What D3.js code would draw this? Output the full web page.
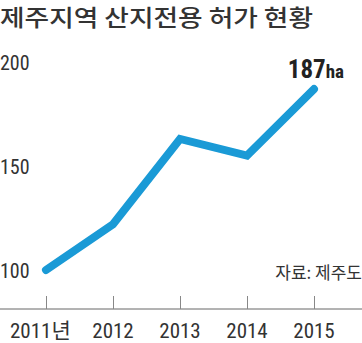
<!DOCTYPE html>
<html>
<head>
<meta charset="utf-8">
<script src="https://cdn.jsdelivr.net/npm/d3@7"></script>
<style>
  html, body { margin: 0; padding: 0; background: #fff; }
  svg { display: block; }
  .narrow { font-family: "Liberation Sans Narrow", "Roboto Condensed", "Noto Sans CJK KR", sans-serif; }
</style>
</head>
<body>
<svg id="chart" width="362" height="343"></svg>
<script>
// 제주지역 산지전용 허가 면적 (ha)
const years = [2011, 2012, 2013, 2014, 2015];
const yearLabels = ["2011년", "2012", "2013", "2014", "2015"];
const areas = [100, 122, 163, 155, 187];
const yTicks = [100, 150, 200];
const title = "제주지역 산지전용 허가 현황";
const source = "자료: 제주도";
const lastLabel = "187";
const unit = "ha";

const svg = d3.select("#chart");
const ink = "#333";

const x = d3.scalePoint().domain(years).range([46, 314]);
const y = d3.scaleLinear().domain([100, 200]).range([270, 62]);

// title
svg.append("text")
  .attr("x", 0).attr("y", 26)
  .attr("font-family", "'Noto Sans CJK KR', sans-serif")
  .attr("font-size", 23).attr("font-weight", 500)
  .attr("fill", ink)
  .attr("textLength", 313).attr("lengthAdjust", "spacingAndGlyphs")
  .text(title);

// y tick labels
svg.append("g").selectAll("text").data(yTicks).join("text")
  .attr("class", "narrow")
  .attr("x", 0).attr("y", d => y(d) + 8)
  .attr("font-size", 20).attr("fill", ink)
  .text(d => d);

// x axis
const xAxis = d3.axisTop(x).tickSize(13).tickFormat("").tickSizeOuter(0);
const gx = svg.append("g").attr("transform", "translate(0,309)").call(xAxis);
gx.select(".domain").attr("d", "M0,0H362").attr("stroke", "#666");
gx.selectAll(".tick line").attr("stroke", "#888");

svg.append("g").selectAll("text").data(years).join("text")
  .attr("class", "narrow")
  .attr("x", d => x(d)).attr("y", 338)
  .attr("text-anchor", (d, i) => i === 0 ? "start" : "middle")
  .attr("dx", (d, i) => i === 0 ? -36 : 0)
  .attr("font-size", 21).attr("fill", ink)
  .text((d, i) => yearLabels[i]);

// line
const line = d3.line().x((d, i) => x(years[i])).y(d => y(d));
svg.append("path")
  .datum(areas)
  .attr("d", line)
  .attr("fill", "none")
  .attr("stroke", "#1a9ad6")
  .attr("stroke-width", 8)
  .attr("stroke-linecap", "round")
  .attr("stroke-linejoin", "miter");

// value label of last point
const lbl = svg.append("text")
  .attr("class", "narrow")
  .attr("x", x(years[years.length - 1]) + 30)
  .attr("y", y(areas[areas.length - 1]) - 11)
  .attr("text-anchor", "end")
  .attr("fill", "#222").attr("font-weight", 700);
lbl.append("tspan").attr("font-size", 25).text(lastLabel);
lbl.append("tspan").attr("font-size", 19).text(unit);

// source
svg.append("text")
  .attr("x", 362).attr("y", 279)
  .attr("text-anchor", "end")
  .attr("font-family", "'Noto Sans CJK KR', sans-serif")
  .attr("font-size", 17).attr("fill", ink)
  .text(source);
</script>
</body>
</html>
